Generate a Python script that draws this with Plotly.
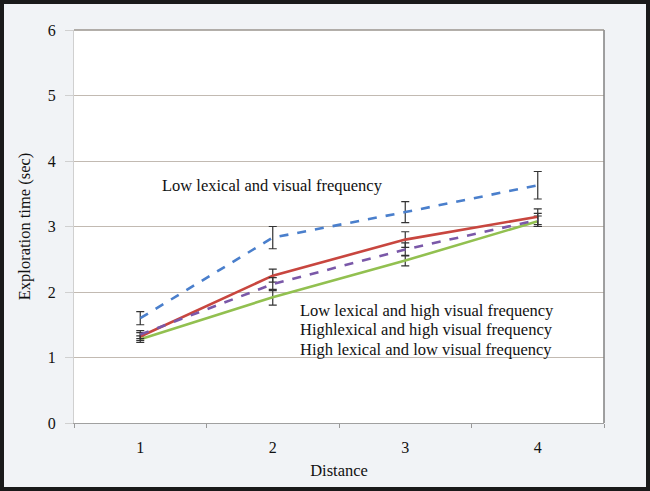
import plotly.graph_objects as go

distance = ["1", "2", "3", "4"]

low_lex_low_vis = [1.60, 2.83, 3.22, 3.63]
low_lex_low_vis_err = [0.10, 0.17, 0.16, 0.21]

series_red = [1.32, 2.25, 2.80, 3.15]
series_red_err = [0.06, 0.10, 0.12, 0.12]

series_purple = [1.35, 2.12, 2.65, 3.10]
series_purple_err = [0.06, 0.10, 0.10, 0.10]

series_green = [1.28, 1.92, 2.48, 3.08]
series_green_err = [0.05, 0.12, 0.08, 0.08]

label_top = "Low lexical and visual frequency"
labels_bottom = [
    "Low lexical and high visual frequency",
    "Highlexical and high visual frequency",
    "High lexical and low visual frequency",
]

SERIF = "Liberation Serif, Times New Roman, serif"
L, R, T, B = 74, 604, 30, 423
W, H = R - L, B - T

fig = go.Figure()

def add(y, err, color, dash):
    fig.add_trace(go.Scatter(
        x=distance, y=y, mode="lines",
        line=dict(color=color, width=2.6, dash=dash),
        error_y=dict(type="data", array=err, visible=True,
                     color="#333333", thickness=1.2, width=4),
        showlegend=False,
    ))

add(series_green, series_green_err, "#92c050", "solid")
add(series_red, series_red_err, "#c8463f", "solid")
add(series_purple, series_purple_err, "#7a58a8", "dash")
add(low_lex_low_vis, low_lex_low_vis_err, "#4a7fcc", "dash")

def px(x):
    return (x - L) / W

def py(y):
    return (B - y) / H

fig.add_annotation(text=label_top, xref="paper", yref="paper",
                   x=px(160), y=py(185), xanchor="left", yanchor="middle",
                   showarrow=False, font=dict(family=SERIF, size=16.5, color="#111111"))
for i, t in enumerate(labels_bottom):
    fig.add_annotation(text=t, xref="paper", yref="paper",
                       x=px(298), y=py(310 + i * 19.5),
                       xanchor="left", yanchor="middle",
                       showarrow=False, font=dict(family=SERIF, size=16.5, color="#111111"))

# outer frame
fig.add_shape(type="rect", xref="paper", yref="paper",
              x0=px(2), x1=px(648), y0=py(489), y1=py(2),
              line=dict(color="#1a1a1a", width=4), layer="above")
# plot border on right and top
fig.add_shape(type="line", xref="paper", yref="paper", x0=1, x1=1, y0=0, y1=1,
              line=dict(color="#808080", width=1.5))
fig.add_shape(type="line", xref="paper", yref="paper", x0=0, x1=1, y0=1, y1=1,
              line=dict(color="#9a948e", width=1.5))

fig.update_layout(
    width=650, height=491,
    margin=dict(l=L, r=650 - R, t=T, b=491 - B),
    paper_bgcolor="#f1f3f6",
    plot_bgcolor="#ffffff",
    font=dict(family=SERIF, size=16, color="#111111"),
    xaxis=dict(
        type="category", tickson="boundaries", ticks="outside", ticklen=4,
        range=[-0.5, 3.5], automargin=False, ticklabelstandoff=10,
        tickcolor="#999999", showgrid=False, showline=True, linecolor="#a0a0a0",
        title=dict(text="Distance", font=dict(size=16.5), standoff=9),
        tickfont=dict(size=16),
    ),
    yaxis=dict(
        range=[0, 6], dtick=1, showgrid=True, gridcolor="#c2bab2", gridwidth=1.2,
        showline=True, linecolor="#d0d0d0", ticks="outside", ticklen=8,
        tickcolor="#d0d0d0", zeroline=False, automargin=False, ticklabelstandoff=6,
        title=dict(text="Exploration time (sec)", font=dict(size=16.5), standoff=13),
        tickfont=dict(size=16),
    ),
)

fig.write_html("out.html", config={"displayModeBar": False},
               post_script="document.body.style.margin='0';")
